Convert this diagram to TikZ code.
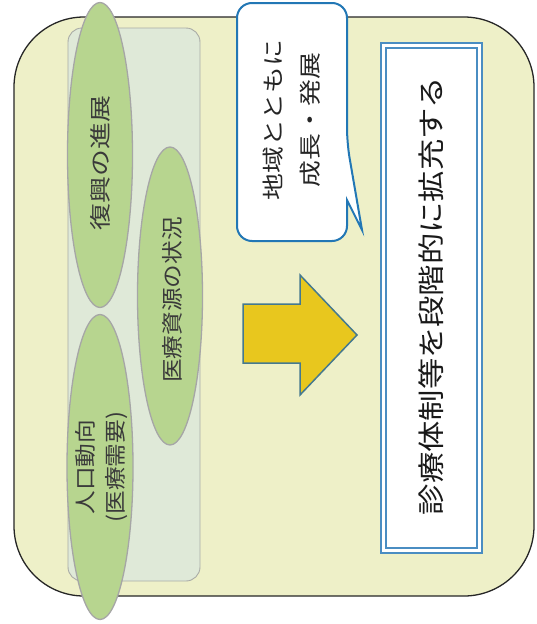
\documentclass[tikz,border=0pt]{standalone}
\usepackage{fontspec}
\setmainfont{Noto Sans CJK JP}
\newfontfamily\jpwide[FakeStretch=1.25]{Noto Sans CJK JP}
\newfontfamily\jpmid[FakeStretch=1.1]{Noto Sans CJK JP}
\newfontfamily\jpcall[FakeStretch=1.22]{Noto Sans CJK JP}
\newfontfamily\jpmain[FakeStretch=1.16]{Noto Sans CJK JP}
\usetikzlibrary{shapes.geometric}
\definecolor{panelbg}{HTML}{EEF0C8}
\definecolor{innerbg}{HTML}{DFE9D8}
\definecolor{innerline}{HTML}{A9ABA6}
\definecolor{ellfill}{HTML}{B7D58F}
\definecolor{ellline}{HTML}{A6A6A6}
\definecolor{callblue}{HTML}{2277B5}
\definecolor{boxblue}{HTML}{4A8DC2}
\definecolor{arrowfill}{HTML}{E8C71E}
\definecolor{arrowline}{HTML}{44798F}
\definecolor{elltext}{HTML}{3A3A3A}
\tikzset{
  panel/.style={draw=black!85, line width=1.3pt, fill=panelbg, rounded corners=70pt},
  innerpanel/.style={draw=innerline, line width=0.9pt, fill=innerbg, rounded corners=14pt},
  factor/.style={ellipse, draw=ellline, line width=1.3pt, fill=ellfill, inner sep=0pt},
  vlabel/.style={rotate=90, inner sep=0pt, text=elltext},
  outerbox/.style={draw=boxblue, line width=2.6pt, fill=white, inner sep=0pt},
  innerbox/.style={draw=boxblue, line width=1.2pt, inner sep=0pt},
  callout/.style={draw=callblue, line width=2pt, fill=white},
  bigarrow/.style={draw=arrowline, line width=1.5pt, fill=arrowfill, line join=miter}
}
\begin{document}
\begin{tikzpicture}[x=1pt,y=-1pt]
\useasboundingbox (0,0) rectangle (536,624);
\fill[white] (0,0) rectangle (536,624);
% main panel
\node[panel, minimum width=520pt, minimum height=579pt] (panel) at (274,306.5) {};
% inner pale panel
\node[innerpanel, minimum width=132pt, minimum height=553pt] (inner) at (134,304.5) {};
% ellipses
\node[factor, minimum width=65pt, minimum height=305pt] (e1) at (100,155) {};
\node[factor, minimum width=65pt, minimum height=298pt] (e2) at (170,296) {};
\node[factor, minimum width=66pt, minimum height=305pt] (e3) at (100,467) {};
\node[vlabel, font=\jpwide\fontsize{21.5pt}{25pt}\selectfont] (l1) at (100,163) {復興の進展};
\node[vlabel, font=\jpmid\fontsize{21.5pt}{25pt}\selectfont] (l2) at (172,300) {医療資源の状況};
\node[vlabel, align=center, font=\jpmid\fontsize{21.5pt}{30pt}\selectfont] (l3) at (102,467) {人口動向\\(医療需要)};
% callout
\draw[callout, rounded corners=15pt] (237,3) -- (347,3) -- (347,143)
  [sharp corners] -- (362,230) -- (347,200)
  [rounded corners=15pt] -- (347,241) -- (237,241) -- cycle;
\node[rotate=90, align=center, inner sep=0pt, text=black!85, font=\jpcall\fontsize{22pt}{37pt}\selectfont] (call) at (292,120) {地域とともに\\成長・発展};
% yellow arrow
\draw[bigarrow] (243,304) -- (300,304) -- (300,275) -- (357,335) -- (300,395) -- (300,363) -- (243,363) -- cycle;
% result box
\node[outerbox, minimum width=101pt, minimum height=510pt] (box) at (431.5,298) {};
\node[innerbox, minimum width=91pt, minimum height=500pt] (boxin) at (box.center) {};
\node[rotate=90, inner sep=0pt, text=black!90, font=\jpmain\fontsize{27pt}{30pt}\selectfont] (result) at (431,296) {診療体制等を段階的に拡充する};
\end{tikzpicture}
\end{document}
